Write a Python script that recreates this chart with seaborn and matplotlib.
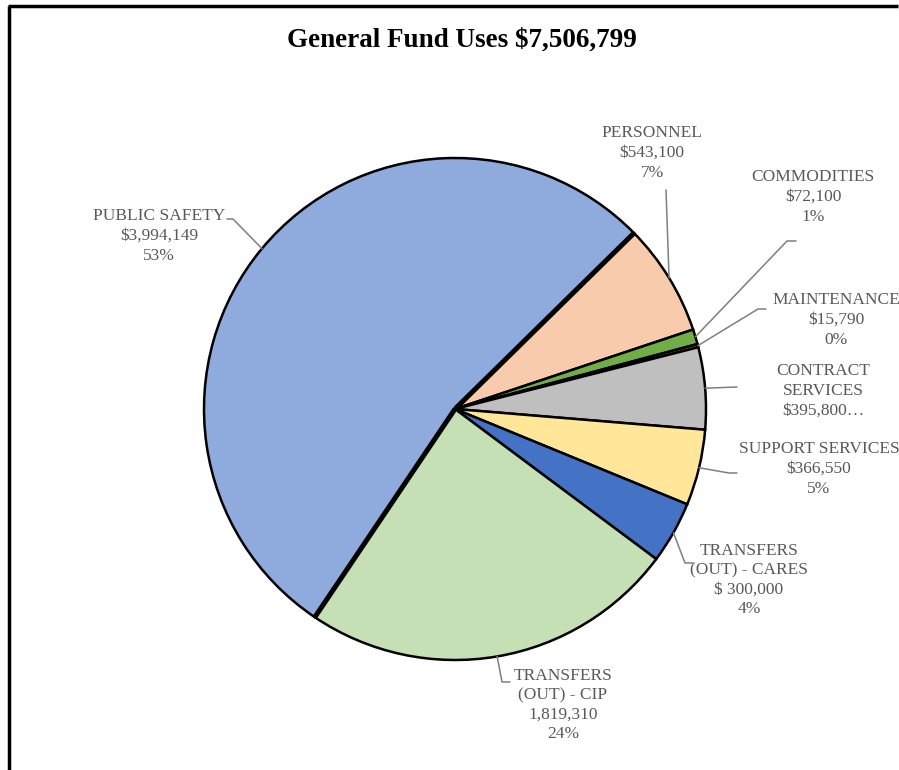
import numpy as np
import matplotlib
matplotlib.use("Agg")
import matplotlib.pyplot as plt
import seaborn as sns

# General fund uses, listed clockwise from the personnel wedge
categories = ["PERSONNEL", "COMMODITIES", "MAINTENANCE", "CONTRACT\nSERVICES",
              "SUPPORT SERVICES", "TRANSFERS\n(OUT) - CARES",
              "TRANSFERS\n(OUT) - CIP", "PUBLIC SAFETY"]
amounts = [543100, 72100, 15790, 395800, 366550, 300000, 1819310, 3994149]
value_prefix = ["$", "$", "$", "$", "$", "$ ", "", "$"]
show_pct = [True, True, True, False, True, True, True, True]
colors = ["#F8CBAD", "#70AD47", "#8B5A2B", "#BFBFBF",
          "#FFE699", "#4472C4", "#C5E0B4", "#8FAADC"]

total = sum(amounts)
title = f"General Fund Uses ${total:,}"

sns.set_theme(style="white")
plt.rcParams["font.family"] = ["Liberation Serif", "DejaVu Serif"]

W, H = 899, 770
fig = plt.figure(figsize=(W / 100, H / 100), dpi=100)
ax = fig.add_axes([0, 0, 1, 1])

cx, cy, R = 455, H - 409, 251
wedges, _ = ax.pie(amounts, colors=colors, startangle=44.5, counterclock=False,
                   center=(cx, cy), radius=R,
                   wedgeprops=dict(edgecolor="black", linewidth=1.8))
ax.set_xlim(0, W)
ax.set_ylim(0, H)
ax.set_aspect("equal")
ax.axis("off")

# heavier radial edges on the public safety wedge
ps = wedges[-1]
for th in (ps.theta1, ps.theta2):
    t = np.deg2rad(th)
    ax.plot([cx, cx + R * np.cos(t)], [cy, cy + R * np.sin(t)],
            color="black", lw=3.6, solid_capstyle="butt", zorder=5)

# label centres and leader elbow points (pixel coordinates, y from top)
label_pos = [(652, 153), (813, 197), (836, 320), (823, 391),
             (819, 469), (749, 580), (563, 705), (159, 236)]
leader = [
    [(666, 190)],
    [(796, 241), (787, 241)],
    [(766, 309), (758, 309)],
    [(737, 387)],
    [(737, 473), (729, 473)],
    [(693, 563), (685, 563)],
    [(510, 682), (502, 682)],
    [(227, 219), (233, 219)],
]

grey = "#595959"
for w, name, amt, pre, sp, (lx, ly), pts in zip(
        wedges, categories, amounts, value_prefix, show_pct, label_pos, leader):
    pct = round(amt / total * 100)
    if sp:
        txt = f"{name}\n{pre}{amt:,}\n{pct}%"
    else:
        txt = f"{name}\n{pre}{amt:,}…"
    ax.text(lx, H - ly, txt, ha="center", va="center", fontsize=12.5,
            color=grey, linespacing=1.3)
    mid = np.deg2rad((w.theta1 + w.theta2) / 2)
    ex, ey = cx + R * np.cos(mid), cy + R * np.sin(mid)
    xs = [p[0] for p in pts] + [ex]
    ys = [H - p[1] for p in pts] + [ey]
    ax.plot(xs, ys, color="#7F7F7F", lw=1.1, zorder=1)

ax.text(462, H - 40, title, ha="center", va="center", fontsize=19.5,
        fontweight="bold", color="black")

# outer frame (left and top rules)
ax.plot([9, 9], [0, H - 6], color="black", lw=2.5, solid_capstyle="butt")
ax.plot([8, 898], [H - 6, H - 6], color="black", lw=2.5, solid_capstyle="butt")

fig.savefig("out.png", dpi=100, facecolor="white")
